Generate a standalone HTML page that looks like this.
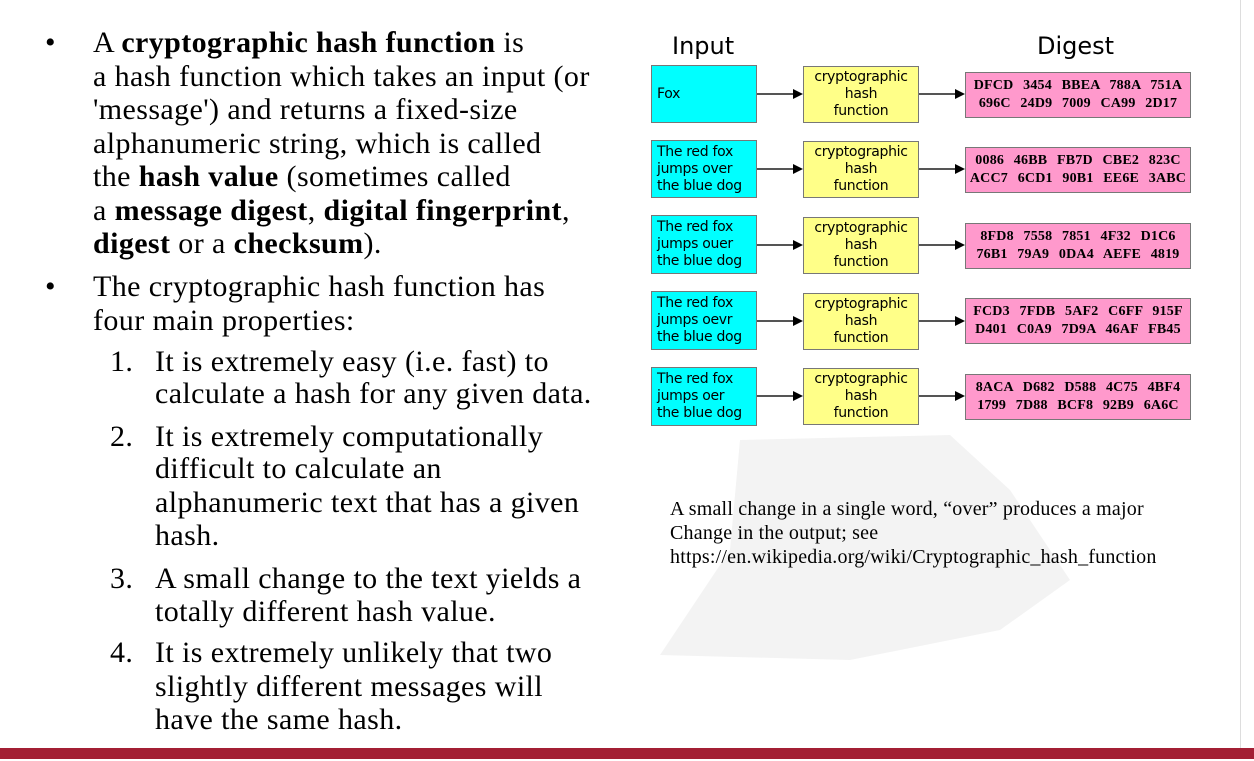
<!DOCTYPE html>
<html><head><meta charset="utf-8"><style>
body{margin:0;width:1254px;height:761px;background:#fff;position:relative;overflow:hidden;font-family:"Liberation Serif",serif;}
.l{position:absolute;font-size:30px;letter-spacing:0.4px;line-height:32px;white-space:nowrap;color:#000;}
.b{position:absolute;font-family:"DejaVu Sans","Liberation Sans",sans-serif;font-size:14px;line-height:17px;box-sizing:border-box;border:1.5px solid #777;letter-spacing:-0.3px;}
.in{background:#00ffff;left:651px;width:106px;padding-left:5px;display:flex;align-items:center;white-space:nowrap;}
.h{background:#ffff88;left:803px;width:116px;text-align:center;display:flex;align-items:center;justify-content:center;}
.d{background:#ff99cc;left:965px;width:226px;font-family:"Liberation Serif",serif;font-weight:bold;font-size:14px;line-height:18px;text-align:center;display:flex;align-items:center;justify-content:center;letter-spacing:0.2px;word-spacing:6px;white-space:nowrap;}
.ar{position:absolute;height:2px;background:#555;}
.ah{position:absolute;width:0;height:0;border-top:5px solid transparent;border-bottom:5px solid transparent;border-left:10px solid #000;}
.cap{position:absolute;font-size:20px;letter-spacing:0.2px;line-height:24px;left:670px;white-space:nowrap;}
</style></head><body>
<div class="l" style="left:45px;top:27px">•</div>
<div class="l" style="left:93px;top:27px">A <b>cryptographic hash function</b> is</div>
<div class="l" style="left:93px;top:61px">a hash function which takes an input (or</div>
<div class="l" style="left:93px;top:94px">'message') and returns a fixed-size</div>
<div class="l" style="left:93px;top:128px">alphanumeric string, which is called</div>
<div class="l" style="left:93px;top:161px">the <b>hash value</b> (sometimes called</div>
<div class="l" style="left:93px;top:195px">a <b>message digest</b>, <b>digital fingerprint</b>,</div>
<div class="l" style="left:93px;top:228px"><b>digest</b> or a <b>checksum</b>).</div>
<div class="l" style="left:45px;top:271px">•</div>
<div class="l" style="left:93px;top:271px">The cryptographic hash function has</div>
<div class="l" style="left:93px;top:305px">four main properties:</div>
<div class="l" style="left:110px;top:346px">1.</div>
<div class="l" style="left:155px;top:346px">It is extremely easy (i.e. fast) to</div>
<div class="l" style="left:155px;top:378px">calculate a hash for any given data.</div>
<div class="l" style="left:110px;top:421px">2.</div>
<div class="l" style="left:155px;top:421px">It is extremely computationally</div>
<div class="l" style="left:155px;top:453px">difficult to calculate an</div>
<div class="l" style="left:155px;top:487px">alphanumeric text that has a given</div>
<div class="l" style="left:155px;top:520px">hash.</div>
<div class="l" style="left:110px;top:563px">3.</div>
<div class="l" style="left:155px;top:563px">A small change to the text yields a</div>
<div class="l" style="left:155px;top:596px">totally different hash value.</div>
<div class="l" style="left:110px;top:637px">4.</div>
<div class="l" style="left:155px;top:637px">It is extremely unlikely that two</div>
<div class="l" style="left:155px;top:671px">slightly different messages will</div>
<div class="l" style="left:155px;top:704px">have the same hash.</div>

<svg style="position:absolute;left:650px;top:430px" width="500" height="240"><path d="M90 10 L300 5 L360 60 L420 150 L350 200 L200 230 L10 225 L80 120 Z" fill="#f3f3f3"/></svg>

<div style="position:absolute;left:672px;top:32px;font-family:'DejaVu Sans',sans-serif;font-size:24px">Input</div>
<div style="position:absolute;left:1037px;top:32px;font-family:'DejaVu Sans',sans-serif;font-size:24px">Digest</div>

<div class="b in" style="top:65px;height:58px">Fox</div>
<div class="b h" style="top:66px;height:57px">cryptographic<br>hash<br>function</div>
<div class="b d" style="top:72px;height:46px">DFCD 3454 BBEA 788A 751A<br>696C 24D9 7009 CA99 2D17</div>
<div class="b in" style="top:140px;height:58px">The red fox<br>jumps over<br>the blue dog</div>
<div class="b h" style="top:141px;height:57px">cryptographic<br>hash<br>function</div>
<div class="b d" style="top:147px;height:46px">0086 46BB FB7D CBE2 823C<br>ACC7 6CD1 90B1 EE6E 3ABC</div>
<div class="b in" style="top:215px;height:59px">The red fox<br>jumps ouer<br>the blue dog</div>
<div class="b h" style="top:217px;height:57px">cryptographic<br>hash<br>function</div>
<div class="b d" style="top:223px;height:46px">8FD8 7558 7851 4F32 D1C6<br>76B1 79A9 0DA4 AEFE 4819</div>
<div class="b in" style="top:291px;height:59px">The red fox<br>jumps oevr<br>the blue dog</div>
<div class="b h" style="top:293px;height:57px">cryptographic<br>hash<br>function</div>
<div class="b d" style="top:298px;height:46px">FCD3 7FDB 5AF2 C6FF 915F<br>D401 C0A9 7D9A 46AF FB45</div>
<div class="b in" style="top:367px;height:59px">The red fox<br>jumps oer<br>the blue dog</div>
<div class="b h" style="top:368px;height:57px">cryptographic<br>hash<br>function</div>
<div class="b d" style="top:374px;height:46px">8ACA D682 D588 4C75 4BF4<br>1799 7D88 BCF8 92B9 6A6C</div>

<div class="ar" style="left:757px;top:93px;width:40px"></div><div class="ah" style="left:793px;top:89px"></div>
<div class="ar" style="left:919px;top:93px;width:40px"></div><div class="ah" style="left:955px;top:89px"></div>
<div class="ar" style="left:757px;top:168px;width:40px"></div><div class="ah" style="left:793px;top:164px"></div>
<div class="ar" style="left:919px;top:168px;width:40px"></div><div class="ah" style="left:955px;top:164px"></div>
<div class="ar" style="left:757px;top:244px;width:40px"></div><div class="ah" style="left:793px;top:240px"></div>
<div class="ar" style="left:919px;top:244px;width:40px"></div><div class="ah" style="left:955px;top:240px"></div>
<div class="ar" style="left:757px;top:320px;width:40px"></div><div class="ah" style="left:793px;top:316px"></div>
<div class="ar" style="left:919px;top:320px;width:40px"></div><div class="ah" style="left:955px;top:316px"></div>
<div class="ar" style="left:757px;top:395px;width:40px"></div><div class="ah" style="left:793px;top:391px"></div>
<div class="ar" style="left:919px;top:395px;width:40px"></div><div class="ah" style="left:955px;top:391px"></div>

<div class="cap" style="top:497px">A small change in a single word, “over” produces a major</div>
<div class="cap" style="top:521px">Change in the output; see</div>
<div class="cap" style="top:545px">https://en.wikipedia.org/wiki/Cryptographic_hash_function</div>

<div style="position:absolute;left:1240px;top:0;width:1px;height:748px;background:#ddd"></div>
<div style="position:absolute;left:0;top:748px;width:1254px;height:11px;background:#a31f34"></div>
</body></html>
